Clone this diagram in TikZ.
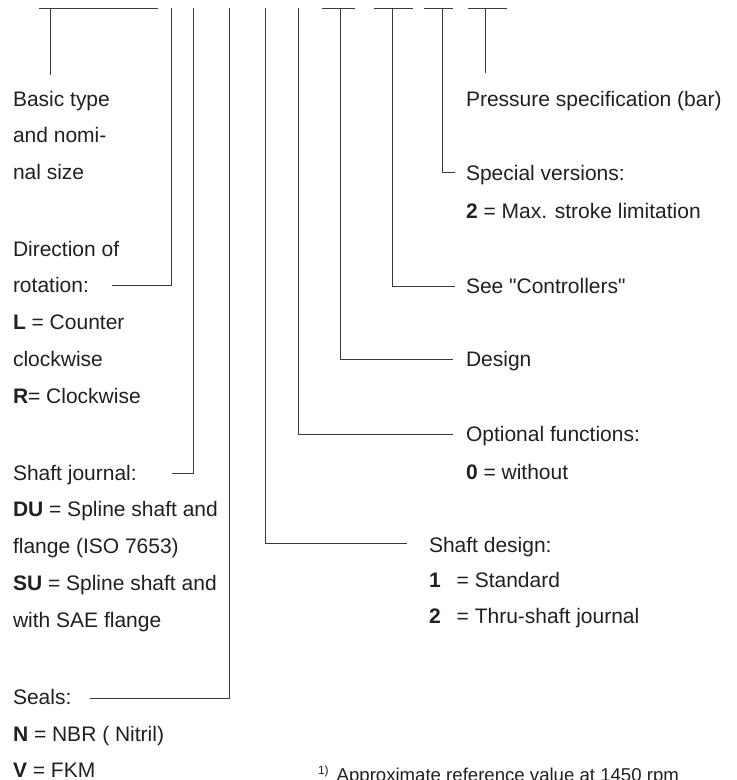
\documentclass[tikz,border=0pt]{standalone}
\usepackage{fontspec}
\setmainfont{Liberation Sans}
\definecolor{tc}{HTML}{231F20}
\definecolor{lc}{HTML}{3A3A3A}
\newcommand\fs{\fontsize{21}{25}\selectfont}
\newcommand\fn{\fontsize{18.6}{22}\selectfont}
\begin{document}
\begin{tikzpicture}[x=1pt,y=-1pt,
  ln/.style={draw=lc,line width=1pt},
  lbl/.style={anchor=base west,inner sep=0pt,outer sep=0pt,font=\fs,text=tc},
  fnote/.style={anchor=base west,inner sep=0pt,outer sep=0pt,font=\fn,text=tc}]
\useasboundingbox (0,0) rectangle (737,780);

% ---- top code bar coordinates ----
\coordinate (bL) at (39,8);  \coordinate (bR) at (158,8);
\coordinate (b0) at (50,8);  \coordinate (b0e) at (50,75);
\coordinate (v1) at (171,8); \coordinate (v2) at (193,8);
\coordinate (v3) at (229,8); \coordinate (v4) at (265,8);
\coordinate (v5) at (298,8);
\coordinate (c1L) at (322,8); \coordinate (c1R) at (355,8); \coordinate (c1) at (340,8);
\coordinate (c2L) at (374,8); \coordinate (c2R) at (413,8); \coordinate (c2) at (392,8);
\coordinate (c3L) at (424,8); \coordinate (c3R) at (453,8); \coordinate (c3) at (442,8);
\coordinate (c4L) at (468,8); \coordinate (c4R) at (507,8); \coordinate (c4) at (485,8);
\coordinate (c4e) at (485,73);

% ---- connector free ends ----
\coordinate (e1) at (112,285);
\coordinate (e2) at (172,473);
\coordinate (e3) at (90,698);
\coordinate (e4) at (407,543);
\coordinate (e5) at (453,434);
\coordinate (e6) at (453,359);
\coordinate (e7) at (455,286);
\coordinate (e8) at (455,172);

% ---- left column ----
\node[lbl] (basic1) at (13,106) {Basic type};
\node[lbl] (basic2) at (13,142.8) {and nomi-};
\node[lbl] (basic3) at (13,179.6) {nal size};
\node[lbl] (dir1) at (13,256) {Direction of};
\node[lbl] (dir2) at (13,292.8) {rotation:};
\node[lbl] (dir3) at (13,329.6) {\textbf{L} = Counter};
\node[lbl] (dir4) at (13,366.4) {clockwise};
\node[lbl] (dir5) at (13,403.2) {\textbf{R}= Clockwise};
\node[lbl] (sj1) at (13,480) {Shaft journal:};
\node[lbl] (sj2) at (13,516.8) {\textbf{DU} = Spline shaft and};
\node[lbl] (sj3) at (13,553.6) {flange (ISO 7653)};
\node[lbl] (sj4) at (13,590.4) {\textbf{SU} = Spline shaft and};
\node[lbl] (sj5) at (13,627.2) {with SAE flange};
\node[lbl] (se1) at (13,704.5) {Seals:};
\node[lbl] (se2) at (13,741.3) {\textbf{N} = NBR ( Nitril)};
\node[lbl] (se3) at (13,777) {\textbf{V} = FKM};

% ---- right column ----
\node[lbl] (pr) at (466,106) {Pressure specification (bar)};
\node[lbl] (sv1) at (466,180.5) {Special versions:};
\node[lbl] (sv2) at (466,218) {\textbf{2} = Max. stroke limitation};
\node[lbl] (ctl) at (466,293) {See \textquotedbl Controllers\textquotedbl};
\node[lbl] (des) at (466,366) {Design};
\node[lbl] (of1) at (466,441.5) {Optional functions:};
\node[lbl] (of2) at (466,479) {\textbf{0} = without};
\node[lbl] (sd1) at (429,552) {Shaft design:};
\node[lbl] (sd2) at (429,587.5) {\textbf{1}\hspace{16pt}= Standard};
\node[lbl] (sd3) at (429,623.5) {\textbf{2}\hspace{16pt}= Thru-shaft journal};
\node[fnote] (fn) at (318,781) {\raisebox{7pt}{\fontsize{12}{14}\selectfont 1)}\hspace{8pt}Approximate reference value at 1450 rpm};

% ---- lines ----
\draw[ln] (bL) -- (bR);
\draw[ln] (b0) -- (b0e);
\draw[ln] (v1) |- (e1);
\draw[ln] (v2) |- (e2);
\draw[ln] (v3) |- (e3);
\draw[ln] (v4) |- (e4);
\draw[ln] (v5) |- (e5);
\draw[ln] (c1L) -- (c1R);
\draw[ln] (c1) |- (e6);
\draw[ln] (c2L) -- (c2R);
\draw[ln] (c2) |- (e7);
\draw[ln] (c3L) -- (c3R);
\draw[ln] (c3) |- (e8);
\draw[ln] (c4L) -- (c4R);
\draw[ln] (c4) -- (c4e);
\end{tikzpicture}
\end{document}
